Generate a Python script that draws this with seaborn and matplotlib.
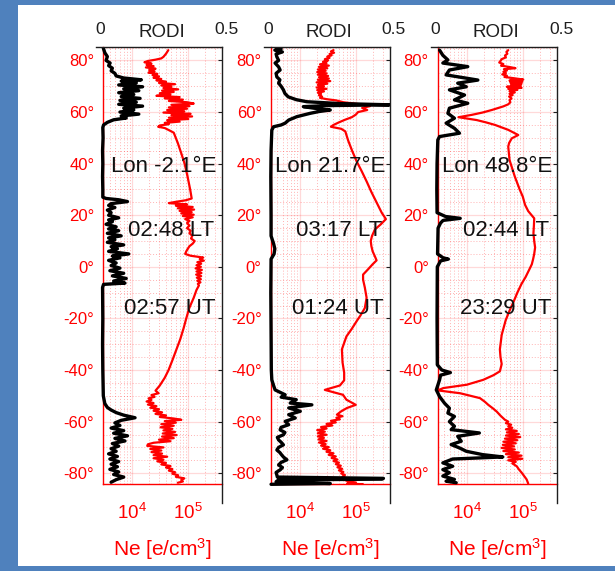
import matplotlib
matplotlib.use("Agg")
import matplotlib.pyplot as plt
from matplotlib.patches import Rectangle
from matplotlib.ticker import FixedLocator, LogLocator, NullFormatter, MultipleLocator
from matplotlib.transforms import blended_transform_factory, ScaledTranslation
import seaborn as sns

# ---------------------------------------------------------------- data
lon = [-2.1, 21.7, 48.8]
local_time = ["02:48", "03:17", "02:44"]
univ_time = ["02:57", "01:24", "23:29"]

lat_ticks = [-80, -60, -40, -20, 0, 20, 40, 60, 80]
lat_tick_labels = [f"{v}°" for v in lat_ticks]
rodi_ticks = [0, 0.5]
rodi_tick_labels = ["0", "0.5"]

# Pass 1 (Lon -2.1 E)
lat_ne_1 = [84.0, 83.3, 82.6, 82.0, 81.4, 80.8, 80.3, 79.8, 79.3, 78.8, 78.3, 77.8, 77.3, 76.8, 76.3,
            75.8, 75.3, 74.8, 74.3, 73.8, 73.3, 72.8, 72.3, 71.8, 71.3, 70.8, 70.3, 69.8, 69.3, 68.8,
            68.3, 67.8, 67.3, 66.8, 66.3, 65.8, 65.3, 64.8, 64.3, 63.8, 63.3, 62.8, 62.3, 61.8, 61.3,
            60.8, 60.3, 59.8, 59.3, 58.8, 58.3, 57.8, 57.3, 56.8, 56.3, 55.8, 55.3, 54.8, 54.3, 53.8,
            53.0, 52.0, 48.0, 44.0, 40.0, 35.0, 30.0,
            26.5, 25.8, 25.2, 24.7, 24.2, 23.7, 23.2, 22.7, 22.2, 21.7, 21.2, 20.7, 20.2, 19.7, 19.2,
            18.5, 17.8, 17.0, 16.0, 15.0, 14.0, 13.0, 12.0, 11.0, 10.0, 9.0, 8.0, 7.0, 6.0, 5.0,
            4.3, 3.6, 3.0, 2.4, 1.8, 1.2, 0.6, 0.0, -0.6, -1.2, -1.8, -2.4, -3.0, -3.6, -4.2,
            -4.8, -5.4, -6.0, -6.6, -7.2, -9.0, -12.0, -16.0, -20.0, -24.0, -28.0, -32.0, -36.0, -40.0,
            -43.0, -46.0, -48.0, -49.0, -49.7, -50.4, -51.0, -51.6, -52.2, -52.8, -53.4, -54.0, -54.6,
            -55.2, -55.8, -56.4, -57.0, -57.6, -58.2, -58.8, -59.3, -59.8, -60.4, -61.0, -61.6, -62.2,
            -62.8, -63.4, -64.0, -64.6, -65.2, -65.8, -66.4, -67.0, -67.6, -68.2, -68.8, -69.4, -70.0,
            -70.6, -71.2, -71.8, -72.4, -73.0, -73.6, -74.2, -74.8, -75.4, -76.0, -76.6, -77.2, -77.8,
            -78.4, -79.0, -79.6, -80.2, -80.8, -81.4, -82.0, -82.6, -83.2, -83.7]
ne_1 = [44000, 42000, 40000, 38000, 36000, 33000, 26000, 19000, 16500, 22000, 18000, 24000, 17500, 26000, 20000,
        25000, 19500, 28000, 23000, 30000, 24000, 33000, 27000, 40000, 30000, 58000, 33000, 50000, 36000, 66000,
        34000, 55000, 31000, 48000, 27000, 70000, 38000, 80000, 45000, 95000, 125000, 50000, 105000, 45000, 95000,
        42000, 85000, 36000, 110000, 50000, 117000, 45000, 100000, 42000, 70000, 38000, 45000, 31000, 29000, 38000,
        45000, 55000, 65000, 75000, 86000, 97000, 108000,
        115000, 90000, 60000, 45000, 95000, 60000, 120000, 65000, 127000, 70000, 115000, 75000, 125000, 80000, 120000,
        88000, 105000, 95000, 105000, 95000, 110000, 105000, 118000, 112000, 130000, 120000, 105000, 98000, 92000, 88000,
        110000, 185000, 160000, 190000, 145000, 170000, 140000, 168000, 135000, 175000, 140000, 172000, 138000, 170000, 142000,
        168000, 145000, 165000, 148000, 155000, 140000, 125000, 104000, 92000, 82000, 72000, 61500, 52500, 44500,
        38000, 31000, 26000, 29500, 22000, 25000, 19500, 22000, 18000, 24000, 19000, 27000, 21000,
        30000, 24000, 34000, 26000, 40000, 31000, 55000, 75000, 38000, 60000, 33000, 55000, 32000,
        52000, 36000, 58000, 35000, 62000, 34000, 55000, 30000, 48000, 24000, 19000, 18500, 36000,
        21000, 33000, 22000, 34000, 24000, 42000, 24000, 36000, 28000, 40000, 33000, 48000, 40000,
        52000, 45000, 58000, 52000, 66000, 60000, 85000, 75000, 80000, 65000]

lat_rodi_1 = [84.8, 83.0, 81.5, 80.0, 79.0, 78.0, 77.0, 76.0, 75.0, 74.0, 73.2, 72.5, 72.0, 71.3, 70.5,
              69.8, 69.0, 68.3, 67.5, 66.8, 66.0, 65.3, 64.5, 63.8, 63.0, 62.3, 61.5, 60.8, 60.0, 59.2,
              58.5, 57.7, 57.0, 56.0, 55.0, 54.0, 50.0, 45.0, 40.0, 35.0, 30.0, 27.0, 26.5, 26.0, 25.3,
              24.5, 23.8, 23.0, 22.0, 21.0, 20.0, 19.0, 18.2, 17.5, 16.5, 15.5, 14.7, 14.0, 13.0, 12.0,
              11.2, 10.5, 9.5, 8.5, 7.8, 7.0, 6.0, 5.0, 4.2, 3.5, 2.5, 1.5, 0.5, -0.5, -1.5,
              -2.5, -3.5, -4.5, -5.5, -6.3, -6.8, -8.0, -20.0, -30.0, -40.0, -50.0, -53.0, -54.5, -55.5,
              -56.5, -57.5, -58.5, -59.5, -60.5, -61.5, -62.5, -63.5, -64.5, -65.5, -66.5, -67.5, -68.5,
              -69.5, -70.5, -71.5, -72.5, -73.5, -74.5, -75.5, -76.5, -77.5, -78.5, -79.5, -80.5, -81.5,
              -82.5, -83.5]
rodi_1 = [0.029, 0.035, 0.045, 0.040, 0.056, 0.050, 0.065, 0.060, 0.075, 0.080, 0.110, 0.180, 0.100, 0.160, 0.090,
          0.185, 0.110, 0.170, 0.090, 0.150, 0.100, 0.175, 0.095, 0.160, 0.090, 0.185, 0.110, 0.150, 0.095, 0.170,
          0.100, 0.120, 0.070, 0.045, 0.030, 0.027, 0.028, 0.026, 0.027, 0.026, 0.027, 0.027, 0.040, 0.090, 0.125,
          0.060, 0.050, 0.075, 0.045, 0.060, 0.050, 0.090, 0.050, 0.065, 0.040, 0.080, 0.050, 0.090, 0.045, 0.100,
          0.050, 0.075, 0.045, 0.110, 0.060, 0.085, 0.050, 0.130, 0.065, 0.095, 0.050, 0.080, 0.060, 0.095, 0.055,
          0.110, 0.065, 0.120, 0.070, 0.115, 0.030, 0.026, 0.027, 0.026, 0.027, 0.029, 0.035, 0.045, 0.060,
          0.080, 0.110, 0.155, 0.100, 0.075, 0.095, 0.060, 0.110, 0.070, 0.125, 0.075, 0.115, 0.065,
          0.090, 0.060, 0.080, 0.050, 0.085, 0.055, 0.090, 0.060, 0.085, 0.055, 0.090, 0.070, 0.110,
          0.080, 0.060]

# Pass 2 (Lon 21.7 E)
lat_ne_2 = [84.0, 83.5, 83.0, 82.5, 82.0, 81.5, 81.0, 80.5, 80.0, 79.5, 79.0, 78.5, 78.0, 77.5, 77.0,
            76.5, 76.0, 75.5, 75.0, 74.5, 74.0, 73.5, 73.0, 72.5, 72.0, 71.5, 71.0, 70.5, 70.0, 69.5,
            69.0, 68.5, 68.0, 67.5, 67.0, 66.5, 66.0, 65.5, 65.0, 64.5, 63.8, 63.0, 62.3, 61.6, 60.8,
            60.0, 59.0, 58.0, 57.0, 56.0, 55.0, 54.3, 53.5, 52.5, 49.0, 45.0, 41.0, 37.0, 33.0, 29.0,
            25.0, 21.0, 18.5, 16.5, 14.5, 12.0, 10.0, 8.0, 6.0, 4.0, 2.5, 1.0, -1.0, -3.0, -5.0,
            -8.0, -12.0, -16.0, -19.0, -21.0, -24.0, -27.0, -32.0, -37.0, -41.0, -44.0, -46.0, -47.7,
            -49.6, -51.5, -53.5, -54.7, -56.0, -57.3, -57.9, -58.5, -59.1, -59.7, -60.3, -60.9, -61.5,
            -62.1, -62.7, -63.3, -63.9, -64.5, -65.1, -65.7, -66.3, -66.9, -67.5, -68.1, -68.7, -69.3,
            -69.9, -70.5, -71.1, -71.7, -72.3, -72.9, -73.5, -74.1, -74.7, -75.3, -75.9, -76.5, -77.1,
            -77.7, -78.3, -78.9, -79.5, -80.1, -80.7, -81.3, -81.9, -82.5, -83.1, -83.6, -84.0, -84.3,
            -84.5]
ne_2 = [40000, 36000, 41000, 34000, 37000, 31000, 34000, 28000, 32000, 26000, 30000, 23000, 33000, 22000, 31000,
        21000, 29000, 20500, 30000, 21000, 32000, 22000, 33000, 21000, 35000, 20000, 31000, 21000, 27000, 20000,
        30000, 20500, 27000, 21000, 24000, 22000, 25000, 23000, 30000, 45000, 60000, 120000, 180000, 130000, 160000,
        110000, 100000, 85000, 64000, 50000, 40000, 36000, 55000, 65000, 73000, 86000, 103000, 128000, 157000, 190000,
        235000, 290000, 345000, 280000, 220000, 195000, 185000, 190000, 200000, 220000, 235000, 200000, 165000, 135000, 135000,
        145000, 156000, 145000, 120000, 104000, 85000, 68000, 56500, 58000, 62000, 62000, 52000, 28000,
        59000, 68000, 100000, 70000, 55000, 46000, 58000, 45000, 52000, 36000, 44000, 30000, 38000,
        24000, 30000, 20500, 28000, 21000, 30000, 21000, 27000, 21500, 30000, 22000, 29000, 24000,
        33000, 26000, 35000, 30000, 40000, 33000, 44000, 37000, 47000, 40000, 50000, 44000, 54000,
        47000, 57000, 50000, 60000, 55000, 64000, 58000, 68000, 62000, 72000, 100000, 70000, 135000,
        90000]

lat_rodi_2 = [84.5, 84.0, 83.3, 82.5, 81.4, 80.0, 79.0, 77.5, 76.3, 75.0, 73.6, 72.5, 71.2, 70.0, 68.6,
              67.2, 65.9, 64.8, 64.0, 63.3, 62.8, 62.5, 62.1, 61.5, 60.8, 60.2, 59.5, 58.2, 56.9, 55.7,
              55.0, 54.3, 53.0, 45.0, 35.0, 20.0, 12.0, 9.0, 7.0, 5.0, 3.0, -10.0, -25.0, -40.0, -43.8,
              -46.0, -47.7, -49.6, -50.5, -51.5, -52.8, -53.5, -54.7, -56.0, -57.3, -58.6, -59.9, -61.2,
              -62.2, -63.2, -64.2, -65.1, -66.1, -67.1, -68.0, -69.0, -70.0, -71.0, -72.0, -72.9, -73.8,
              -74.8, -75.8, -76.8, -77.8, -78.7, -79.7, -80.7, -81.5, -82.0, -82.3, -82.6, -83.3, -84.0,
              -84.3]
rodi_2 = [0.070, 0.045, 0.075, 0.050, 0.053, 0.060, 0.046, 0.060, 0.066, 0.050, 0.053, 0.065, 0.060, 0.070, 0.079,
          0.085, 0.098, 0.130, 0.172, 0.300, 0.500, 0.250, 0.158, 0.200, 0.265, 0.220, 0.185, 0.132, 0.100, 0.086,
          0.070, 0.040, 0.033, 0.030, 0.029, 0.030, 0.030, 0.040, 0.045, 0.042, 0.030, 0.029, 0.030, 0.031, 0.033,
          0.040, 0.046, 0.086, 0.070, 0.130, 0.106, 0.192, 0.100, 0.146, 0.100, 0.126, 0.086, 0.100,
          0.070, 0.066, 0.085, 0.079, 0.055, 0.060, 0.070, 0.079, 0.060, 0.053, 0.065, 0.072, 0.080,
          0.093, 0.070, 0.060, 0.075, 0.066, 0.050, 0.053, 0.055, 0.476, 0.470, 0.060, 0.050, 0.265,
          0.030]

# Pass 3 (Lon 48.8 E)
lat_ne_3 = [84.0, 83.3, 82.6, 81.9, 81.2, 80.5, 79.8, 79.2, 78.6, 78.0, 77.4, 77.0, 76.6, 76.1, 75.6,
            75.1, 74.6, 74.1, 73.6, 73.1, 72.6, 72.2, 71.8, 71.4, 71.0, 70.6, 70.2, 69.8, 69.4, 69.0,
            68.6, 68.1, 67.6, 67.1, 66.6, 66.0, 65.3, 64.6, 63.8, 63.0, 62.2, 60.8, 59.8, 58.9, 58.0,
            56.9, 56.0, 55.0, 53.1, 51.1, 49.8, 48.0, 46.6, 41.4, 35.0, 30.0, 27.2, 24.0, 21.6, 18.8,
            16.0, 13.0, 10.0, 7.5, 5.0, 3.0, 1.0, -1.0, -4.0, -6.6, -10.0, -13.7, -17.0, -20.7, -24.0,
            -26.4, -32.0, -35.0, -37.7, -40.5, -42.0, -43.8, -45.7, -47.0, -47.9, -49.0, -50.9, -52.3,
            -53.5, -54.8, -56.1, -57.7, -59.3, -60.0, -60.6, -61.2, -61.8, -62.4, -63.0, -63.6, -64.2,
            -64.8, -65.4, -66.0, -66.6, -67.2, -67.8, -68.4, -69.0, -69.6, -70.2, -70.8, -71.4, -72.0,
            -72.6, -73.2, -73.8, -74.4, -75.0, -75.6, -76.2, -77.3, -78.5, -79.8, -81.0, -82.4, -84.0]
ne_3 = [55000, 51000, 53000, 48000, 50000, 42000, 40000, 38000, 45000, 41000, 60000, 74000, 46000, 52000, 45000,
        50000, 43000, 52000, 47000, 70000, 102000, 58000, 98000, 60000, 95000, 62000, 92000, 52000, 95000, 55000,
        80000, 58000, 72000, 58000, 66000, 57000, 63000, 58000, 60000, 55000, 45000, 28000, 19000, 12200, 7100,
        15000, 22000, 32000, 55000, 83000, 63500, 57000, 55000, 58000, 72000, 88000, 100000, 110000, 125000, 160000,
        158000, 155000, 160000, 166000, 160000, 153000, 145000, 131000, 112000, 95000, 80000, 68000, 58000, 49500, 45000,
        42000, 39000, 40000, 42000, 39000, 30000, 19700, 10000, 3800, 3050, 7600, 17200, 21000,
        24200, 29000, 34200, 40000, 48000, 55000, 50000, 62000, 55000, 65000, 50000, 78000, 52000,
        85000, 50000, 90000, 48000, 80000, 45000, 75000, 44000, 70000, 42000, 72000, 45000, 85000,
        50000, 95000, 55000, 98000, 55000, 75000, 65000, 78000, 85000, 95500, 105000, 117000, 125000]

lat_rodi_3 = [84.0, 82.0, 80.2, 79.0, 77.6, 76.3, 74.4, 72.4, 71.2, 69.8, 68.6, 66.6, 64.7, 63.4, 61.5,
              59.5, 57.6, 55.7, 53.7, 51.8, 50.5, 49.2, 40.0, 30.0, 21.0, 19.5, 18.8, 18.0, 17.0, 15.0,
              5.0, 3.5, 3.0, 2.3, 0.0, -20.0, -38.0, -40.0, -41.0, -42.0, -43.8, -47.7, -50.3, -52.9,
              -54.8, -56.7, -58.0, -60.0, -61.8, -63.1, -64.4, -65.7, -67.6, -68.9, -70.2, -71.5, -72.8,
              -73.7, -74.5, -76.0, -77.3, -78.6, -79.8, -81.1, -82.4, -83.1, -83.7]
rodi_3 = [0.036, 0.049, 0.069, 0.049, 0.148, 0.075, 0.062, 0.188, 0.108, 0.142, 0.075, 0.135, 0.095, 0.148, 0.075,
          0.069, 0.095, 0.062, 0.095, 0.115, 0.036, 0.029, 0.026, 0.025, 0.026, 0.060, 0.118, 0.050, 0.040, 0.030,
          0.028, 0.050, 0.071, 0.040, 0.027, 0.026, 0.027, 0.045, 0.079, 0.040, 0.036, 0.023, 0.036, 0.056,
          0.075, 0.069, 0.095, 0.075, 0.095, 0.082, 0.194, 0.108, 0.122, 0.082, 0.115, 0.142, 0.207,
          0.287, 0.088, 0.049, 0.088, 0.049, 0.075, 0.049, 0.095, 0.062, 0.102]

passes = [
    (lat_ne_1, ne_1, lat_rodi_1, rodi_1),
    (lat_ne_2, ne_2, lat_rodi_2, rodi_2),
    (lat_ne_3, ne_3, lat_rodi_3, rodi_3),
]

# ---------------------------------------------------------------- style
sns.set_style("white")
plt.rcParams["font.family"] = ["Liberation Sans", "DejaVu Sans"]
plt.rcParams["mathtext.fontset"] = "custom"
plt.rcParams["mathtext.rm"] = "Liberation Sans"
plt.rcParams["mathtext.it"] = "Liberation Sans:italic"
plt.rcParams["mathtext.bf"] = "Liberation Sans:bold"

RED = "#ff0000"
INK = "#1e1e1e"
W, H = 615, 571
LAT_MIN, LAT_MAX = -84.3, 85.1
NE_MIN, NE_MAX = 3e3, 4e5

fig = plt.figure(figsize=(W / 100, H / 100), dpi=100)
fig.patch.set_facecolor("#4f81bd")
fig.add_artist(Rectangle((17.5 / W, 5 / H), 1, 561 / H, transform=fig.transFigure,
                         facecolor="white", edgecolor="none", zorder=-10))

# pixel layout of each panel
red_left = [103, 270.5, 437.5]
panel_w = 119
top_px, red_bot_px, black_bot_px = 47.3, 484.3, 503.0
black_shift = 7

lon_x = [0.065, 0.034, 0.038]
lt_x = [0.93, 0.937, 0.937]
ut_x = [0.948, 0.95, 0.954]

for i, (lat_ne, ne, lat_rodi, rodi) in enumerate(passes):
    x0 = red_left[i]
    ax_ne = fig.add_axes([x0 / W, (H - red_bot_px) / H, panel_w / W, (red_bot_px - top_px) / H])
    ax_ro = fig.add_axes([(x0 - black_shift) / W, (H - black_bot_px) / H,
                          (panel_w + black_shift) / W, (black_bot_px - top_px) / H])
    ax_ro.patch.set_alpha(0)

    # electron density (log x, bottom)
    sns.lineplot(x=ne, y=lat_ne, ax=ax_ne, sort=False, estimator=None,
                 color=RED, lw=1.6, legend=False)
    ax_ne.set_xscale("log")
    ax_ne.set_xlim(NE_MIN, NE_MAX)
    ax_ne.set_ylim(LAT_MIN, LAT_MAX)
    ax_ne.xaxis.set_major_locator(LogLocator(base=10))
    ax_ne.xaxis.set_minor_locator(LogLocator(base=10, subs=range(2, 10)))
    ax_ne.xaxis.set_minor_formatter(NullFormatter())
    ax_ne.yaxis.set_major_locator(FixedLocator(lat_ticks))
    ax_ne.set_yticklabels(lat_tick_labels)
    ax_ne.yaxis.set_minor_locator(MultipleLocator(5))
    ax_ne.grid(which="major", color=RED, alpha=0.15, lw=0.9, ls="-")
    ax_ne.grid(which="minor", color=RED, alpha=0.3, lw=0.7, ls=(0, (1, 2)))
    for side in ["top", "right"]:
        ax_ne.spines[side].set_visible(False)
    for side in ["left", "bottom"]:
        ax_ne.spines[side].set_color(RED)
        ax_ne.spines[side].set_linewidth(1.0)
    ax_ne.tick_params(axis="both", which="both", direction="in", colors=RED)
    ax_ne.tick_params(axis="both", which="minor", length=0)
    ax_ne.tick_params(axis="y", which="major", length=3, labelsize=12, pad=6.3)
    ax_ne.tick_params(axis="x", which="major", length=3, labelsize=13.5, pad=13.5)
    ax_ne.set_xlabel("Ne [e/cm$^3$]", color=RED, fontsize=15, labelpad=9)
    ax_ne.set_ylabel("")

    # RODI (linear x, top)
    sns.lineplot(x=rodi, y=lat_rodi, ax=ax_ro, sort=False, estimator=None,
                 color="black", lw=2.4, legend=False)
    ax_ro.set_xlim(0, 0.5)
    ax_ro.set_ylim(LAT_MAX - (LAT_MAX - LAT_MIN) * (black_bot_px - top_px) / (red_bot_px - top_px), LAT_MAX)
    ax_ro.set_xlabel("")
    ax_ro.set_ylabel("")
    for side in ["left", "bottom"]:
        ax_ro.spines[side].set_visible(False)
    for side in ["top", "right"]:
        ax_ro.spines[side].set_color(INK)
        ax_ro.spines[side].set_linewidth(1.0)
    ax_ro.xaxis.set_ticks_position("top")
    ax_ro.xaxis.set_major_locator(FixedLocator(rodi_ticks))
    ax_ro.set_xticklabels(rodi_tick_labels)
    ax_ro.tick_params(axis="x", length=0, labeltop=True, labelbottom=False,
                      labelsize=12.5, colors=INK, pad=7.2)
    ax_ro.yaxis.set_ticks_position("right")
    ax_ro.yaxis.set_major_locator(FixedLocator(lat_ticks))
    ax_ro.tick_params(axis="y", direction="in", length=3, labelleft=False, labelright=False,
                      colors=INK)
    shift = ScaledTranslation(4.5 / 100, 0, fig.dpi_scale_trans)
    for lbl in ax_ro.get_xticklabels():
        lbl.set_transform(lbl.get_transform() + shift)
    ax_ro.annotate("RODI", xy=(0.52, 1), xycoords="axes fraction", xytext=(0, 7.2),
                   textcoords="offset points", ha="center", va="baseline",
                   fontsize=13.5, color=INK)

    # pass annotations
    tr = blended_transform_factory(ax_ne.transAxes, ax_ne.transData)
    kw = dict(transform=tr, fontsize=16, color="#111111", va="center", zorder=10)
    ax_ro.text(lon_x[i], 39, f"Lon {lon[i]}°E", ha="left", **kw)
    ax_ro.text(lt_x[i], 14, f"{local_time[i]} LT", ha="right", **kw)
    ax_ro.text(ut_x[i], -16, f"{univ_time[i]} UT", ha="right", **kw)

fig.savefig("out.png", dpi=100, facecolor=fig.get_facecolor())
